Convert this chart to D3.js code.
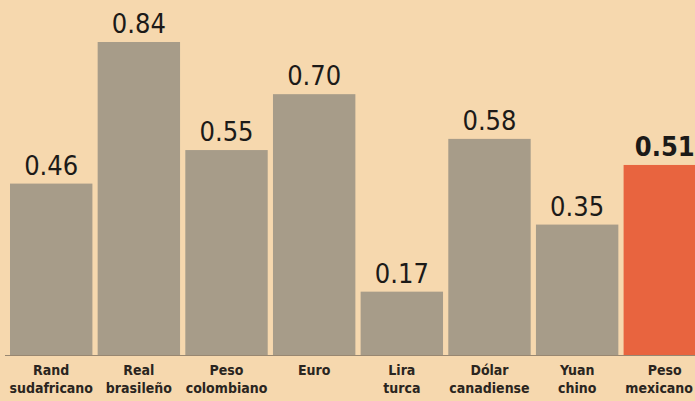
<!DOCTYPE html>
<html>
<head>
<meta charset="utf-8">
<script src="https://cdn.jsdelivr.net/npm/d3@7"></script>
<style>
  body { margin: 0; background: #f6d8ae; }
  svg { display: block; }
</style>
</head>
<body>
<svg width="695" height="401"></svg>
<script>
// currencies (two-line labels)
const line1 = ["Rand", "Real", "Peso", "Euro", "Lira", "Dólar", "Yuan", "Peso"];
const line2 = ["sudafricano", "brasileño", "colombiano", "", "turca", "canadiense", "chino", "mexicano"];
const values = [0.46, 0.84, 0.55, 0.70, 0.17, 0.58, 0.35, 0.51];

const svg = d3.select("svg");
const width = 695, height = 401;
const baseY = 355;
const font = "'DejaVu Sans Condensed', 'DejaVu Sans', sans-serif";

svg.append("rect").attr("width", width).attr("height", height).attr("fill", "#f6d8ae");

const idx = d3.range(values.length);

const x = d3.scaleBand()
  .domain(idx)
  .range([10, 706])
  .paddingInner(0.06)
  .paddingOuter(0);

const y = d3.scaleLinear()
  .domain([0, 0.84])
  .range([baseY, 42]);

// bars
svg.selectAll("rect.bar")
  .data(idx)
  .join("rect")
  .attr("class", "bar")
  .attr("x", i => x(i))
  .attr("y", i => y(values[i]))
  .attr("width", x.bandwidth())
  .attr("height", i => baseY - y(values[i]))
  .attr("fill", i => i === values.length - 1 ? "#e8643f" : "#a79c89");

// baseline
svg.append("line")
  .attr("x1", 5).attr("x2", width)
  .attr("y1", baseY + 0.5).attr("y2", baseY + 0.5)
  .attr("stroke", "#5a5148")
  .attr("stroke-width", 1)
  .attr("stroke-opacity", 0.6);

// value labels
svg.selectAll("text.val")
  .data(idx)
  .join("text")
  .attr("class", "val")
  .attr("x", i => x(i) + x.bandwidth() / 2)
  .attr("y", i => y(values[i]) - 9)
  .attr("text-anchor", "middle")
  .attr("font-family", font)
  .attr("font-size", 27)
  .attr("font-weight", i => i === values.length - 1 ? "bold" : "normal")
  .attr("fill", "#1c1a18")
  .text(i => values[i].toFixed(2));

// category labels
const cat = svg.selectAll("g.cat")
  .data(idx)
  .join("g")
  .attr("class", "cat")
  .attr("transform", i => `translate(${x(i) + x.bandwidth() / 2},0)`);

[line1, line2].forEach((lines, k) => {
  cat.append("text")
    .attr("y", 375 + k * 18)
    .attr("text-anchor", "middle")
    .attr("font-family", font)
    .attr("font-size", 14)
    .attr("font-weight", "bold")
    .attr("fill", "#2a2520")
    .text(i => lines[i])
    .attr("dx", function(i) {
      // keep the label inside the right edge
      const cx = x(i) + x.bandwidth() / 2;
      const over = cx + this.getComputedTextLength() / 2 - (width - 2);
      return over > 0 ? -over : 0;
    });
});
</script>
</body>
</html>
